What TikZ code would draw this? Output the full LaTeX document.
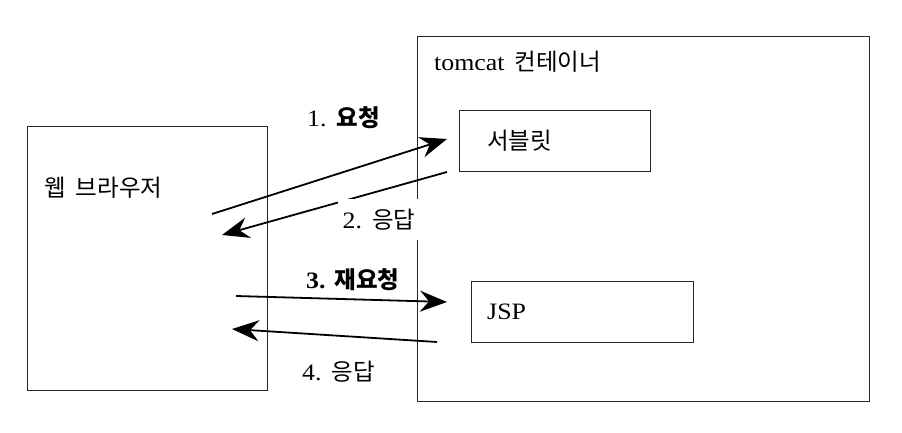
\documentclass[tikz,border=0pt]{standalone}
\usepackage{fontspec}
\setmainfont{Liberation Serif}[FakeStretch=1.1]
\newfontfamily\kr{Noto Sans CJK KR}
\usetikzlibrary{arrows.meta}
\begin{document}
\begin{tikzpicture}[x=1pt,y=-1pt,
  box/.style={draw=black!85, line width=0.9pt},
  lbl/.style={font=\fontsize{23.5}{27}\selectfont, inner sep=0pt},
  flow/.style={line width=1.8pt, -{Stealth[length=27pt,width=21pt,inset=9pt]}}]
\useasboundingbox (0,0) rectangle (902,433);
% boxes
\draw[box] (27,126) rectangle (267,390);
\draw[box] (417,36) rectangle (869,401);
\draw[box] (459,110) rectangle (650,171);
\draw[box] (471,281) rectangle (693,342);
% named anchor points
\coordinate (b1) at (212,214);
\coordinate (s1) at (447,139);
\coordinate (s2) at (447,172);
\coordinate (b2) at (222,235);
\coordinate (b3) at (236,296);
\coordinate (j3) at (447,302);
\coordinate (j4) at (437,342);
\coordinate (b4) at (232,329);
% arrows
\draw[flow] (b1) -- (s1);
\draw[flow] (s2) -- (b2);
\draw[flow] (b3) -- (j3);
\draw[flow] (j4) -- (b4);
% texts
\node[lbl, anchor=west] (web) at (44,188) {\kr 웹\hspace{10pt}브라우저};
\node[lbl, anchor=west] (tc) at (434,62) {tomcat\hspace{10pt}{\kr 컨테이너}};
\node[lbl, anchor=west] (sv) at (487,141) {\kr 서블릿};
\node[lbl, anchor=west] (jsp) at (487,312) {JSP};
\node[lbl, anchor=west] (l1) at (307,118) {1.\hspace{10pt}{\kr\bfseries 요청}};
\node[lbl, fill=white, minimum width=82pt, minimum height=41pt] (l2) at (379,219.5) {2.\hspace{10pt}{\kr 응답}};
\node[lbl, anchor=west] (l3) at (306,280) {\bfseries 3.\hspace{9pt}{\kr 재요청}};
\node[lbl, anchor=west] (l4) at (302,372) {4.\hspace{10pt}{\kr 응답}};
\end{tikzpicture}
\end{document}
